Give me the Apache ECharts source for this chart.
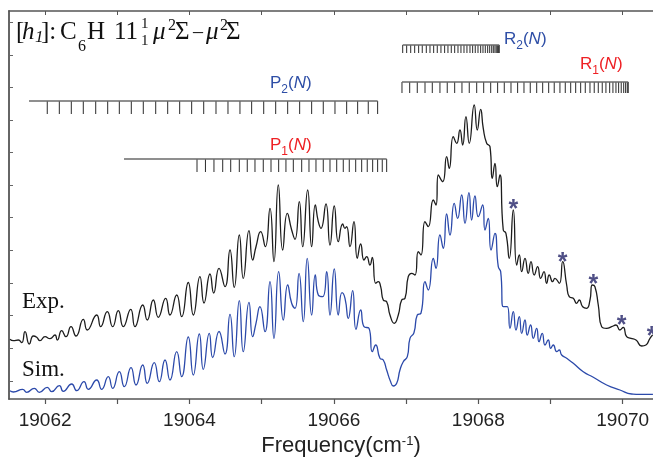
<!DOCTYPE html>
<html>
<head>
<meta charset="utf-8">
<script src="https://cdn.jsdelivr.net/npm/echarts@6/dist/echarts.min.js"></script>
<style>html,body{margin:0;padding:0;background:#fff}#c{width:653px;height:459px}</style>
</head>
<body>
<div id="c"></div>
<script>
// ---------- data (frequency in cm-1, intensity in arbitrary units) ----------
const expFreq = [
19061.514,19061.560,19061.629,19061.676,19061.722,19061.781,19061.837,19061.884,19061.929,19061.999,
19062.068,19062.137,19062.169,19062.230,19062.289,19062.359,19062.428,19062.529,19062.584,19062.715,
19062.770,19062.861,19062.936,19063.014,19063.083,19063.186,19063.245,19063.352,19063.415,19063.499,
19063.568,19063.670,19063.730,19063.823,19063.892,19063.983,19064.053,19064.145,19064.201,19064.284,
19064.335,19064.409,19064.492,19064.561,19064.620,19064.690,19064.745,19064.824,19064.875,19064.921,
19064.986,19065.050,19065.115,19065.170,19065.230,19065.291,19065.355,19065.415,19065.461,19065.521,
19065.568,19065.637,19065.692,19065.742,19065.784,19065.821,19065.890,19065.946,19066.005,19066.061,
19066.122,19066.154,19066.177,19066.223,19066.278,19066.324,19066.371,19066.417,19066.454,19066.500,
19066.532,19066.579,19066.615,19066.648,19066.684,19066.731,19066.777,19066.836,19066.892,19066.939,
19066.985,19067.030,19067.077,19067.123,19067.169,19067.206,19067.262,19067.307,19067.377,19067.414,
19067.446,19067.507,19067.562,19067.598,19067.654,19067.701,19067.746,19067.784,19067.829,19067.875,
19067.944,19067.986,19068.033,19068.069,19068.116,19068.162,19068.194,19068.231,19068.263,19068.300,
19068.346,19068.383,19068.429,19068.485,19068.532,19068.568,19068.601,19068.647,19068.692,19068.730,
19068.775,19068.822,19068.864,19068.910,19068.947,19068.983,19069.030,19069.062,19069.122,19069.169,
19069.224,19069.260,19069.316,19069.362,19069.399,19069.446,19069.501,19069.547,19069.579,19069.616,
19069.662,19069.709,19069.778,19069.847,19069.907,19069.962,19070.008,19070.055,19070.115,19070.184,
19070.263,19070.322,19070.378,19070.415];
const expInt = [
59.7,58.3,59,56.3,67.3,55,63,61.7,58.3,62.3,
60.3,64,59,68.3,62.3,72.3,63,79.7,69,84,
72.3,87.3,72.3,88.3,72.3,89.7,72.3,94,79,99,
81.7,100.7,84,104,82.3,116.5,84,122.3,96,125,
106,130.7,112.3,149,111.7,164,120.7,168.3,139,152.3,
167.3,152.3,190.7,137.3,214,149,185.7,169,159.7,197.3,
152.3,209,152.3,194,177.3,170.7,195,154,193,157.3,
175,170.7,172.3,152.3,177.3,140.7,155,139,142.3,134,
141.7,115.7,117.3,112.3,99,97.3,84,75.7,84,99,
100.7,122.3,125.7,124,147.3,144,177.3,172.3,199,194,
224,217.3,242.3,230.7,262.3,255.7,269,254,282.3,255.7,
294,269,289.7,270.7,255.7,252.3,220.7,235.7,212.3,224,
169,165.7,140.7,189,134,144,127.3,140.7,125.7,137.3,
124,132.3,120.7,127.3,115.7,124,117.3,120.7,115.7,137.3,
114,102.3,100.7,95.7,99,92.3,90.7,99,114,112.3,
94,72.3,70.7,72.3,74,69,71.7,62.3,60.7,59,
53,54,60.7,64];
const simFreq = [
19061.514,19061.560,19061.690,19061.745,19061.850,19061.920,19062.030,19062.091,19062.197,19062.252,
19062.368,19062.438,19062.539,19062.598,19062.715,19062.784,19062.875,19062.936,19063.028,19063.097,
19063.190,19063.259,19063.352,19063.415,19063.512,19063.582,19063.661,19063.730,19063.823,19063.892,
19063.983,19064.053,19064.136,19064.191,19064.274,19064.321,19064.409,19064.492,19064.561,19064.620,
19064.690,19064.745,19064.824,19064.875,19064.921,19064.976,19065.046,19065.115,19065.170,19065.235,
19065.299,19065.360,19065.415,19065.461,19065.517,19065.576,19065.631,19065.692,19065.742,19065.784,
19065.845,19065.900,19065.946,19066.005,19066.061,19066.112,19066.154,19066.199,19066.260,19066.306,
19066.371,19066.417,19066.486,19066.532,19066.579,19066.638,19066.684,19066.731,19066.786,19066.823,
19066.870,19066.915,19066.961,19067.017,19067.054,19067.109,19067.155,19067.206,19067.262,19067.307,
19067.377,19067.414,19067.469,19067.515,19067.562,19067.608,19067.667,19067.714,19067.770,19067.816,
19067.871,19067.908,19067.954,19068.000,19068.061,19068.093,19068.138,19068.176,19068.231,19068.277,
19068.310,19068.346,19068.402,19068.439,19068.485,19068.522,19068.568,19068.601,19068.647,19068.678,
19068.725,19068.762,19068.809,19068.841,19068.886,19068.924,19068.969,19069.003,19069.039,19069.086,
19069.122,19069.155,19069.224,19069.316,19069.454,19069.593,19069.778,19069.962,19070.124,19070.239,
19070.419];
const simInt = [
8.3,7,9.7,6.7,10.7,6.7,11.7,7.3,13.3,7.7,
15,8.3,17.3,9.7,19,9.7,22.3,10.7,27.3,12.3,
31.3,14,34,15.7,36.3,17.3,39,19,47.3,22.3,
62,24,65,29.7,65.7,41.5,67.5,45,84.7,42.3,
98.3,47.3,96.7,62.3,75.7,92.3,67.3,117.3,60.7,127.3,
79,114,95.7,90.7,125.7,77.3,140.7,84,124,104,
102.3,127.3,84,130,84,106.3,100.7,80.7,108.3,69.7,
89,72.3,70.7,47.3,54,40.7,39,29,17.3,13,
15.7,29,37.3,42.3,60.7,66.3,84,85.7,117.3,109,
140.7,130.7,164,150.7,185,164,195.7,180.7,204,175.7,
206.3,179,203,182.3,194,169,180.7,149,165.7,132.3,
127.3,92.3,92.3,70.7,87.3,69,82.3,65.7,79,64,
74,60.7,70.7,57.3,65.7,54,59,50.7,54,47.3,
49,44,40.7,35.7,27.3,21.7,14,9,5,4.7,
4.7];
// line positions of the assignment ladders (cm-1)
const p2Lines = [19062.030,19062.197,19062.363,19062.529,19062.701,19062.867,19063.028,19063.194,19063.360,19063.532,
19063.698,19063.864,19064.030,19064.197,19064.367,19064.533,19064.699,19064.861,19065.028,19065.194,
19065.360,19065.526,19065.692,19065.853,19066.015,19066.177,19066.329,19066.476,19066.606];
const p1Lines = [19064.104,19064.221,19064.339,19064.460,19064.571,19064.690,19064.800,19064.907,19065.022,19065.129,
19065.235,19065.336,19065.438,19065.554,19065.655,19065.752,19065.853,19065.946,19066.039,19066.130,
19066.213,19066.302,19066.385,19066.462,19066.537,19066.606,19066.670,19066.731];
const r2Lines = [19066.953,19067.008,19067.064,19067.119,19067.174,19067.224,19067.280,19067.331,19067.382,19067.432,
19067.483,19067.534,19067.580,19067.626,19067.673,19067.719,19067.760,19067.802,19067.843,19067.885,
19067.922,19067.958,19067.996,19068.033,19068.065,19068.097,19068.130,19068.158,19068.186,19068.208,
19068.231,19068.249,19068.268,19068.282,19068.290];
const r1Lines = [19066.943,19067.050,19067.155,19067.262,19067.363,19067.469,19067.570,19067.673,19067.774,19067.875,
19067.978,19068.075,19068.172,19068.268,19068.360,19068.453,19068.545,19068.633,19068.720,19068.809,
19068.892,19068.975,19069.052,19069.131,19069.205,19069.280,19069.349,19069.418,19069.482,19069.547,
19069.606,19069.662,19069.717,19069.768,19069.820,19069.865,19069.907,19069.944,19069.980,19070.014,
19070.041,19070.064,19070.077];
const p2Start = 19061.777, p1Start = 19063.093;
// unassigned features marked with asterisks
const starFreq = [19068.485,19069.169,19069.593,19069.986,19070.401];
const starInt = [195.7,143,121.3,79.7,69];
const xTicks = [19062,19063,19064,19065,19066,19067,19068,19069,19070];
const xLabels = [19062,19064,19066,19068,19070];
const yTicks = [18,51,84,116,149,182,214,247,279,312,344,377];

// ---------- chart ----------
const sans = '"Liberation Sans", Arial, Helvetica, sans-serif';
const serif = '"Liberation Serif", "Times New Roman", serif';
const zip = (a, b) => a.map((v, i) => [v, b[i]]);

function ladder(freqs, top, bottom, color) {
  return {
    type: 'custom', xAxisIndex: 0, yAxisIndex: 0, silent: true, z: 3,
    data: freqs.map(f => [f, top]),
    encode: { x: 0, y: 1 },
    renderItem: function (params, api) {
      const a = api.coord([api.value(0), top]);
      const b = api.coord([api.value(0), bottom]);
      return { type: 'line', shape: { x1: a[0], y1: a[1], x2: b[0], y2: b[1] },
               style: { stroke: color, lineWidth: 1 } };
    }
  };
}
function bar(from, to, y) {
  return { type: 'line', data: [[from, y], [to, y]], symbol: 'none', silent: true, z: 3,
           lineStyle: { color: '#6a6a6a', width: 1.5 } };
}
function ladderLabel(x, y, letter, sub, color) {
  return { type: 'text', left: x, top: y, z: 10, style: {
    text: letter + '{s|' + sub + '}({i|N})', fontFamily: sans, fontSize: 17, lineHeight: 26, fill: color,
    rich: { s: { fontFamily: sans, fontSize: 12, lineHeight: 12, verticalAlign: 'bottom', fill: color },
            i: { fontFamily: sans, fontSize: 17, fontStyle: 'italic', lineHeight: 26, fill: color } } } };
}
// piece of the serif title: text, left, top, size, italic
function t(text, left, top, size, italic) {
  return { type: 'text', left: left, top: top, z: 10, style: {
    text: text, fontFamily: serif, fontSize: size, lineHeight: size,
    fontStyle: italic ? 'italic' : 'normal', fill: '#111' } };
}

const blue = '#2e4ea6', red = '#ee2024';
const chart = echarts.init(document.getElementById('c'), null, { renderer: 'canvas' });
chart.setOption({
  animation: false,
  backgroundColor: '#fff',
  grid: { left: 9, right: 0, top: 11, bottom: 60, outerBoundsMode: 'none', containLabel: false },
  xAxis: [{
    type: 'value', min: 19061.5, max: 19070.42, position: 'bottom',
    axisLine: { show: true, lineStyle: { color: '#555', width: 1.5 } },
    axisTick: { show: true, inside: false, length: 5, customValues: xTicks, lineStyle: { color: '#555', width: 1.2 } },
    axisLabel: { customValues: xLabels, fontSize: 19, color: '#222', fontFamily: sans, margin: 12,
                 formatter: v => String(Math.round(v)) },
    splitLine: { show: false },
    name: 'Frequency(cm{sup|-1})', nameLocation: 'middle', nameGap: 36,
    nameTextStyle: { fontSize: 22, color: '#222', fontFamily: sans, padding: [0, 0, 0, 20],
      rich: { sup: { fontSize: 13, fontFamily: sans, color: '#222', verticalAlign: 'top', lineHeight: 14 } } }
  }, {
    type: 'value', min: 19061.5, max: 19070.42, position: 'top',
    axisLine: { show: true, lineStyle: { color: '#555', width: 1.5 } },
    axisTick: { show: true, inside: true, length: 4, customValues: xTicks, lineStyle: { color: '#555' } },
    axisLabel: { show: false }, splitLine: { show: false }
  }],
  yAxis: [{
    type: 'value', min: 0, max: 388,
    axisLine: { show: true, lineStyle: { color: '#666', width: 2 } },
    axisTick: { show: true, inside: true, length: 4, customValues: yTicks, lineStyle: { color: '#666' } },
    axisLabel: { show: false }, splitLine: { show: false }
  }],
  series: [
    { type: 'line', name: 'Exp.', data: zip(expFreq, expInt), symbol: 'none', smooth: 0.55,
      lineStyle: { color: '#1c1c1c', width: 1.3 }, z: 4 },
    { type: 'line', name: 'Sim.', data: zip(simFreq, simInt), symbol: 'none', smooth: 0.55,
      lineStyle: { color: '#2b49aa', width: 1.3 }, z: 4 },
    bar(p2Start, p2Lines[p2Lines.length - 1], 298),
    ladder(p2Lines, 298, 285, '#2a2a2a'),
    bar(p1Start, p1Lines[p1Lines.length - 1], 240),
    ladder(p1Lines, 240, 227, '#2a2a2a'),
    bar(r2Lines[0], r2Lines[r2Lines.length - 1], 354),
    ladder(r2Lines, 354, 346, '#2a2a2a'),
    bar(r1Lines[0], r1Lines[r1Lines.length - 1], 317),
    ladder(r1Lines, 317, 306, '#2a2a2a'),
    { type: 'scatter', data: zip(starFreq, starInt), symbol: 'circle', symbolSize: 2,
      itemStyle: { color: 'rgba(0,0,0,0)' }, z: 6, silent: true,
      label: { show: true, position: 'inside', formatter: '*', offset: [0, 7],
               fontSize: 25, fontWeight: 'bold', color: '#232368', fontFamily: sans } }
  ],
  graphic: [
    t('[', 16, 20, 25, false),
    t('h', 22, 20, 25, true),
    t('1', 35, 29, 17, true),
    t(']:', 41, 20, 25, false),
    t('C', 60, 20, 25, false),
    t('6', 78, 39, 16, false),
    t('H', 87, 20, 25, false),
    t('11', 114, 20, 25, false),
    t('1', 141, 17, 15, false),
    t('1', 141, 34, 15, false),
    t('μ', 153, 20, 25, true),
    t('2', 168, 18, 16, false),
    t('Σ', 175, 20, 25, false),
    t('–', 193, 23, 20, false),
    t('μ', 206, 20, 25, true),
    t('2', 220, 18, 16, false),
    t('Σ', 226, 20, 25, false),
    { type: 'text', left: 22, top: 290, z: 10, style: { text: 'Exp.', fontFamily: serif, fontSize: 23, fill: '#111' } },
    { type: 'text', left: 22, top: 358, z: 10, style: { text: 'Sim.', fontFamily: serif, fontSize: 23, fill: '#111' } },
    ladderLabel(270, 70, 'P', '2', blue),
    ladderLabel(270, 132, 'P', '1', red),
    ladderLabel(504, 26, 'R', '2', blue),
    ladderLabel(580, 51, 'R', '1', red)
  ]
});
</script>
</body>
</html>
